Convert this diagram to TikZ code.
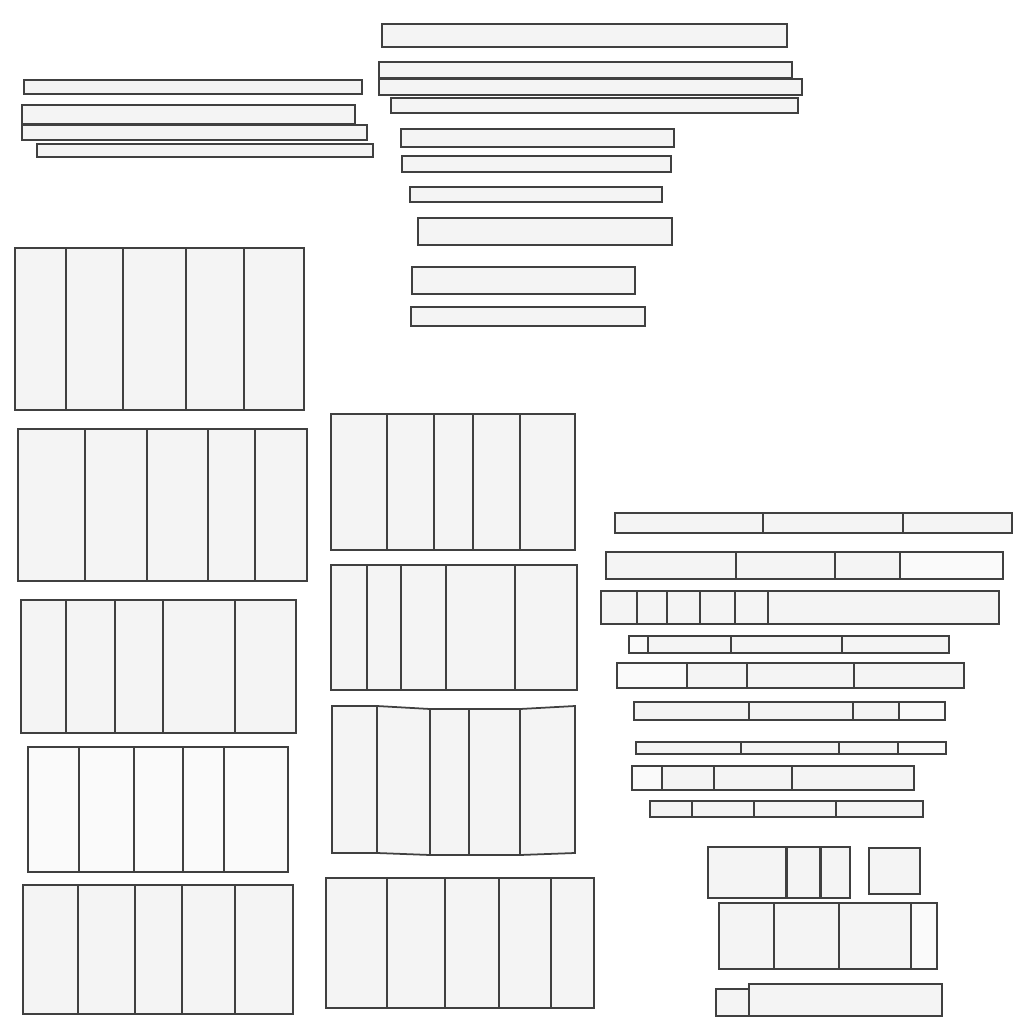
\documentclass[tikz,border=0pt]{standalone}
\usetikzlibrary{calc}

\begin{document}
\begin{tikzpicture} [x=.01cm, y=-.01cm, panel/.style={draw=black!75, fill=gray!9, line width=.5pt}, pale/.style={panel, fill=gray!4}]
\useasboundingbox (0,0) rectangle (1024,1024);
% plain bars, top left and top middle
\foreach \xa/\ya/\xb/\yb in {24/80/362/94, 22/105/355/124, 22/125/367/140, 37/144/373/157,
 382/24/787/47, 379/62/792/78, 379/79/802/95, 391/98/798/113, 401/129/674/147,
 402/156/671/172, 410/187/662/202, 418/218/672/245, 412/267/635/294, 411/307/645/326} {
 \draw[panel] (\xa,\ya) rectangle (\xb,\yb);
}
% left column
\draw[panel] (15,248) rectangle (304,410);
\foreach \x in {66,123,186,244} \draw[black!75] (\x,248) -- (\x,410);
\draw[panel] (18,429) rectangle (307,581);
\foreach \x in {85,147,208,255} \draw[black!75] (\x,429) -- (\x,581);
\draw[panel] (21,600) rectangle (296,733);
\foreach \x in {66,115,163,235} \draw[black!75] (\x,600) -- (\x,733);
\draw[pale] (28,747) rectangle (288,872);
\foreach \x in {79,134,183,224} \draw[black!75] (\x,747) -- (\x,872);
\draw[panel] (23,885) rectangle (293,1014);
\foreach \x in {78,135,182,235} \draw[black!75] (\x,885) -- (\x,1014);
% middle column
\draw[panel] (331,414) rectangle (575,550);
\foreach \x in {387,434,473,520} \draw[black!75] (\x,414) -- (\x,550);
\draw[panel] (331,565) rectangle (577,690);
\foreach \x in {367,401,446,515} \draw[black!75] (\x,565) -- (\x,690);
\draw[panel] (332,706) -- (377,706) -- (430,709) -- (520,709) -- (575,706)
 -- (575,853) -- (520,855) -- (430,855) -- (377,853) -- (332,853) -- cycle;
\draw[black!75] (377,706) -- (377,853);
\foreach \x in {430,469,520} \draw[black!75] (\x,709) -- (\x,855);
\draw[panel] (326,878) rectangle (594,1008);
\foreach \x in {387,445,499,551} \draw[black!75] (\x,878) -- (\x,1008);
% right column, split bars
\draw[panel] (615,513) rectangle (1012,533);
\foreach \x in {763,903} \draw[black!75] (\x,513) -- (\x,533);
\draw[panel] (606,552) rectangle (1003,579);
\fill[gray!4] (900,552) rectangle (1003,579);
\draw[black!75] (606,552) rectangle (1003,579);
\foreach \x in {736,835,900} \draw[black!75] (\x,552) -- (\x,579);
\draw[panel] (601,591) rectangle (999,624);
\foreach \x in {637,667,700,735,768} \draw[black!75] (\x,591) -- (\x,624);
\draw[panel] (629,636) rectangle (949,653);
\draw[pale] (629,636) rectangle (648,653);
\foreach \x in {731,842} \draw[black!75] (\x,636) -- (\x,653);
\draw[panel] (617,663) rectangle (964,688);
\draw[pale] (617,663) rectangle (687,688);
\foreach \x in {747,854} \draw[black!75] (\x,663) -- (\x,688);
\draw[panel] (634,702) rectangle (945,720);
\draw[pale] (899,702) rectangle (945,720);
\foreach \x in {749,853} \draw[black!75] (\x,702) -- (\x,720);
\draw[panel] (636,742) rectangle (946,754);
\draw[pale] (898,742) rectangle (946,754);
\foreach \x in {741,839} \draw[black!75] (\x,742) -- (\x,754);
\draw[panel] (632,766) rectangle (914,790);
\draw[pale] (632,766) rectangle (662,790);
\foreach \x in {714,792} \draw[black!75] (\x,766) -- (\x,790);
\draw[panel] (650,801) rectangle (923,817);
\foreach \x in {692,754,836} \draw[black!75] (\x,801) -- (\x,817);
% bottom right blocks
\foreach \xa/\ya/\xb/\yb in {708/847/786/898, 787/847/820/898, 821/847/850/898, 869/848/920/894,
 716/989/749/1016, 749/984/942/1016} {
 \draw[panel] (\xa,\ya) rectangle (\xb,\yb);
}
\draw[panel] (719,903) rectangle (937,969);
\draw[pale] (911,903) rectangle (937,969);
\foreach \x in {774,839} \draw[black!75] (\x,903) -- (\x,969);
\end{tikzpicture}
\end{document}
